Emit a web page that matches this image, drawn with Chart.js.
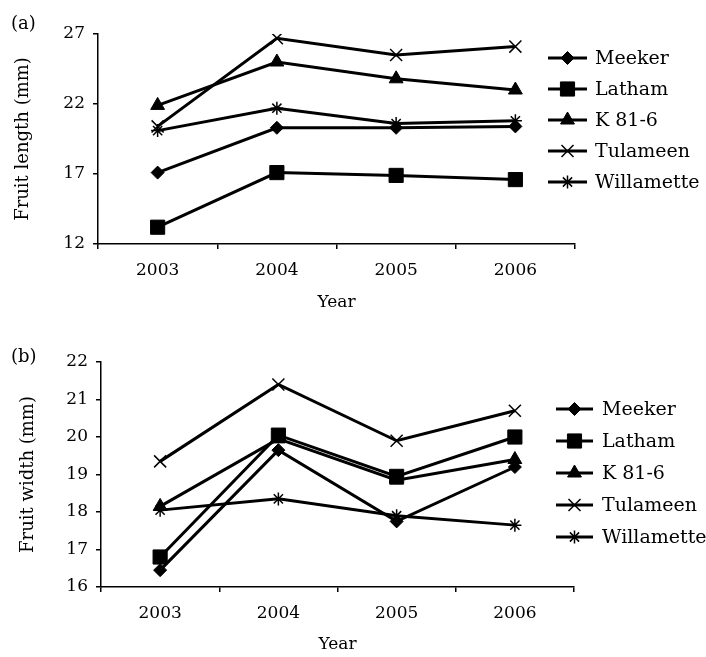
<!DOCTYPE html>
<html>
<head>
<meta charset="utf-8">
<title>Fruit length and width by cultivar</title>
<script src="https://cdn.jsdelivr.net/npm/chart.js@4.4.0/dist/chart.umd.min.js"></script>
<style>
  html, body { margin: 0; padding: 0; background: #fff; }
  #wrap { position: relative; width: 706px; height: 657px; }
  #wrap canvas { position: absolute; left: 0; }
  #chart-length { top: 0; }
  #chart-width { top: 320px; }
</style>
</head>
<body>
<div id="wrap">
  <canvas id="chart-length" width="706" height="320"></canvas>
  <canvas id="chart-width" width="706" height="337"></canvas>
</div>
<script>
// values
const years = ['2003', '2004', '2005', '2006'];
const cultivars = ['Meeker', 'Latham', 'K 81-6', 'Tulameen', 'Willamette'];

const lengthMeeker     = [17.1, 20.3, 20.3, 20.4];
const lengthLatham     = [13.2, 17.1, 16.9, 16.6];
const lengthK816       = [21.9, 25.0, 23.8, 23.0];
const lengthTulameen   = [20.4, 26.7, 25.5, 26.1];
const lengthWillamette = [20.1, 21.7, 20.6, 20.8];

const widthMeeker      = [16.45, 19.65, 17.75, 19.2];
const widthLatham      = [16.8, 20.05, 18.95, 20.0];
const widthK816        = [18.15, 19.95, 18.85, 19.4];
const widthTulameen    = [19.35, 21.4, 19.9, 20.7];
const widthWillamette  = [18.05, 18.35, 17.9, 17.65];

const lengthTicks = [12, 17, 22, 27];
const widthTicks  = [16, 17, 18, 19, 20, 21, 22];

const FONT = "'DejaVu Serif', serif";

// marker look per cultivar (same order as cultivars)
const markers = [
  { pointStyle: 'rectRot',  radius: 6.5, borderWidth: 1 },
  { pointStyle: 'rect',     radius: 10,  borderWidth: 1 },
  { pointStyle: 'triangle', radius: 8,   borderWidth: 1 },
  { pointStyle: 'crossRot', radius: 8.5, borderWidth: 1.5 },
  { pointStyle: 'star',     radius: 6.5, borderWidth: 1.5 }
];

const lineLegendPlugin = {
  id: 'lineLegend',
  afterDraw(chart, args, opts) {
    const { ctx } = chart;
    ctx.save();
    // panel letter
    ctx.fillStyle = '#000';
    ctx.font = `18px ${FONT}`;
    ctx.textAlign = 'left';
    ctx.textBaseline = 'middle';
    ctx.fillText(opts.panel, opts.panelX, opts.panelY);

    chart.data.datasets.forEach((ds, i) => {
      const y = opts.y0 + i * opts.dy;
      ctx.strokeStyle = '#000';
      ctx.lineWidth = 3;
      ctx.beginPath();
      ctx.moveTo(opts.x1, y);
      ctx.lineTo(opts.x2, y);
      ctx.stroke();

      const m = markers[i];
      ctx.fillStyle = '#000';
      ctx.strokeStyle = '#000';
      ctx.lineWidth = m.borderWidth;
      Chart.helpers.drawPoint(ctx, { pointStyle: m.pointStyle, radius: m.radius, borderWidth: m.borderWidth, rotation: 0 },
        (opts.x1 + opts.x2) / 2, y);

      ctx.fillStyle = '#000';
      ctx.font = `19px ${FONT}`;
      ctx.textAlign = 'left';
      ctx.textBaseline = 'middle';
      ctx.fillText(ds.label, opts.textX, y + 1);
    });
    ctx.restore();
  }
};

function buildDatasets(series) {
  return series.map((values, i) => ({
    label: cultivars[i],
    data: values,
    borderColor: '#000',
    borderWidth: 3,
    backgroundColor: '#000',
    pointBackgroundColor: '#000',
    pointBorderColor: '#000',
    pointStyle: markers[i].pointStyle,
    pointRadius: markers[i].radius,
    pointBorderWidth: markers[i].borderWidth,
    tension: 0
  }));
}

function drawPanel(canvasId, cfg) {
  const el = document.getElementById(canvasId);
  return new Chart(el, {
    type: 'line',
    data: { labels: years, datasets: buildDatasets(cfg.series) },
    options: {
      responsive: false,
      animation: false,
      layout: { padding: { left: 0, right: cfg.padRight, top: cfg.padTop, bottom: 0 } },
      plugins: {
        legend: { display: false },
        tooltip: { enabled: false },
        lineLegend: cfg.legend
      },
      scales: {
        x: {
          offset: true,
          grid: { offset: true, drawOnChartArea: false, drawTicks: true, tickLength: 5, color: '#000', lineWidth: 1.5 },
          border: { display: true, color: '#000', width: 1.5 },
          ticks: { color: '#000', font: { family: FONT, size: 17 }, padding: 11, maxRotation: 0 },
          title: { display: true, text: 'Year', color: '#000', font: { family: FONT, size: 17 }, padding: { top: 0, bottom: cfg.xTitlePad } },
          afterFit: s => { s.height = cfg.xHeight; }
        },
        y: {
          min: cfg.ticks[0],
          max: cfg.ticks[cfg.ticks.length - 1],
          afterBuildTicks: s => { s.ticks = cfg.ticks.map(v => ({ value: v })); },
          grid: { drawOnChartArea: false, drawTicks: true, tickLength: 5, color: '#000', lineWidth: 1.5 },
          border: { display: true, color: '#000', width: 1.5 },
          ticks: { color: '#000', font: { family: FONT, size: 17 }, padding: 8 },
          title: { display: true, text: cfg.yTitle, color: '#000', font: { family: FONT, size: 18 }, padding: { top: cfg.yTitlePad, bottom: 0 } },
          afterFit: s => { s.width = cfg.yWidth; }
        }
      }
    },
    plugins: [lineLegendPlugin]
  });
}

drawPanel('chart-length', {
  series: [lengthMeeker, lengthLatham, lengthK816, lengthTulameen, lengthWillamette],
  ticks: lengthTicks,
  yTitle: 'Fruit length (mm)',
  padTop: 34, padRight: 131, yWidth: 98, xHeight: 76, xTitlePad: 7, yTitlePad: 13,
  legend: { panel: '(a)', panelX: 11, panelY: 24, x1: 548, x2: 587, textX: 595, y0: 58, dy: 31 }
});

drawPanel('chart-width', {
  series: [widthMeeker, widthLatham, widthK816, widthTulameen, widthWillamette],
  ticks: widthTicks,
  yTitle: 'Fruit width (mm)',
  padTop: 42, padRight: 132, yWidth: 101, xHeight: 70, xTitlePad: 2, yTitlePad: 18,
  legend: { panel: '(b)', panelX: 11, panelY: 37, x1: 556, x2: 593, textX: 602, y0: 89, dy: 32 }
});
</script>
</body>
</html>
